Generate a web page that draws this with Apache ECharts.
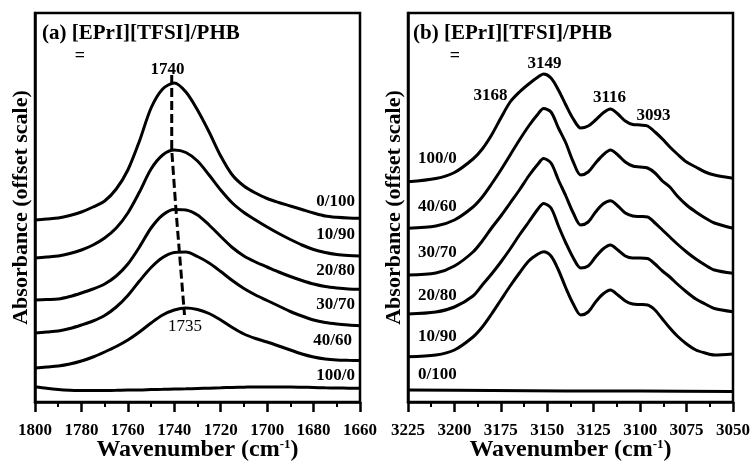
<!DOCTYPE html>
<html><head><meta charset="utf-8">
<script src="https://cdn.jsdelivr.net/npm/echarts@6/dist/echarts.min.js"></script>
<style>html,body{margin:0;padding:0;background:#fff}#c{width:751px;height:461px}</style>
</head><body><div id="c"></div>
<script>
// ---- Panel (a): C=O region ----
const wnA = [1800,1795,1790,1785,1780,1775,1770,1765,1760,1755,1750,1745,1740,1735,1730,1725,1720,1715,1710,1705,1700,1695,1690,1685,1680,1675,1670,1665,1660];
const a_0_100 = [182,183,184,186.5,190,195,201,213,232,261,294,313,319,310,292,270,246,227,216,209,203.5,199.5,196,192.5,189,186,184.7,184,183.7];
const a_10_90 = [144,145,146,148.5,152,157,164,174,189,210,233,247,252,249.5,241,227,212,199,189.5,182,175,168.5,162.5,157,152.5,149.5,147.5,146.5,146];
const a_20_80 = [102,102.5,103,105.5,109,113,118,126,138,155,174,187,192.5,192,187,177,165.5,154.5,146,140,135,130,125.5,121.5,118,115.5,114,113,112.7];
const a_30_70 = [69,70,71,73.5,77,81,86.5,95,106.5,121,134.5,144.5,149.5,150,145.5,139,130.5,121.5,113.5,107,101.5,96,90.5,86,82,79.5,78,77,76.3];
const a_40_60 = [34,35,36,38,41,45,50,55.5,62,70,79,87,92,94,92.5,88.5,82,74.5,68,63.5,60,56,52,48,45,43,42,41.7,41.5];
const a_100_0 = [15.3,13.7,12.5,11.8,11.5,11.4,11.5,11.7,12,12,12.4,12.7,13,13.2,13.5,13.8,14.2,14.6,14.8,15,15,15,15,14.8,14.5,14.2,14,13.8,13.7];
const peakShiftWn = [1741.1,1741.1,1739.3,1737.8,1735.6];
const peakShiftAbs = [327,252,193,150,87];
const ticksA = {min:1660, max:1800, interval:20};

// ---- Panel (b): C-H region ----
const wnB = [3225,3210,3200,3190,3185,3180,3175,3170,3165,3160,3155,3152,3148,3144,3140,3136,3132,3128,3124,3120,3116,3112,3108,3104,3100,3096,3092,3088,3084,3080,3075,3070,3065,3060,3050];
const b_100_0 = [220.3,223.5,229.5,243,253,267,284,300,310,318,325,328,324,312,297,283,274,276,282,289,293,288,281,277.5,277,276,270,263,255,248,240,235,230,227,223.7];
const b_40_60 = [173.7,176,182,195,205,218,232,247,262,276,288,293.5,290,274,259,240,227,230,239,247,252,247,240,236,235,234,229,221,215,206,197,190,184,179,173.7];
const b_30_70 = [127,129,136,150,161,174,186,199,212,226,238,243.5,239,222,206,189,177,180,190,198,201.3,196,189,186,185.5,185,179,172,165,158,150,143,137,132,128.7];
const b_20_80 = [88,90,95,106,117,128,140,153,167,180,193,198.5,194,176,159,144,134,136,145,153,157,152,146,144,144,143.5,138,131,125,118,110,103,98,93.5,90.3];
const b_10_90 = [45.3,47,52,65,75,88,102,116,129,141,148,150.3,146,132,114,98,87,90,100,108,112,107,101,98,97.5,97,92,83,74,66,58,52,49,47,48];
const wnB0 = [3225,3180,3140,3100,3050];
const b_0_100 = [12,11.5,11,11,10.5];
const ticksB = {min:3050, max:3225, interval:25};

const FF = '"Liberation Serif","Times New Roman",serif';
const zip = (xs, ys) => xs.map((x,i)=>[x, ys[i]]);

function xAxisFor(gi, t){
  return {
    gridIndex: gi, type:'value', inverse:true, min:t.min, max:t.max, interval:t.interval,
    axisLine:{show:true, lineStyle:{color:'#000', width:2.5}},
    axisTick:{show:true, inside:false, length:10, lineStyle:{color:'#000', width:2.5}},
    minorTick:{show:true, splitNumber:2, length:5, lineStyle:{color:'#000', width:2}},
    splitLine:{show:false},
    axisLabel:{color:'#000', fontFamily:FF, fontWeight:'bold', fontSize:17, margin:20,
      formatter: v => String(v)},
    name:'{t|Wavenumber (cm}{s|-1}{t|)}', nameLocation:'middle', nameGap:36, nameMoveOverlap:false,
    nameTextStyle:{rich:{
      t:{fontFamily:FF, fontWeight:'bold', fontSize:24, color:'#000'},
      s:{fontFamily:FF, fontWeight:'bold', fontSize:13, color:'#000', verticalAlign:'top'}
    }}
  };
}
function yAxisFor(gi){
  return {
    gridIndex: gi, type:'value', min:0, max:389,
    axisLine:{show:true, lineStyle:{color:'#000', width:2.5}},
    axisTick:{show:false}, axisLabel:{show:false}, splitLine:{show:false},
    name:'Absorbance (offset scale)', nameLocation:'middle', nameGap:3, nameMoveOverlap:false,
    nameTextStyle:{fontFamily:FF, fontWeight:'bold', fontSize:22, color:'#000'}
  };
}
function curve(gi, xs, ys){
  return {type:'line', xAxisIndex:gi, yAxisIndex:gi, data:zip(xs, ys), showSymbol:false,
    smooth:0.3, lineStyle:{color:'#000', width:3}, silent:true, animation:false};
}
function txt(x, y, s, size, align, bold){
  return {type:'text', x:x, y:y, style:{text:s, fill:'#000',
    font:(bold===false?'':'bold ')+size+'px '+FF,
    align:align, textAlign:align, verticalAlign:'middle', textVerticalAlign:'middle'}};
}

const chart = echarts.init(document.getElementById('c'), null, {renderer:'canvas'});
chart.setOption({
  backgroundColor:'#fff',
  animation:false,
  grid:[
    {left:35, top:13, width:325, height:389, show:true, borderColor:'#000', borderWidth:2.5,
      containLabel:false, outerBoundsMode:'none'},
    {left:408, top:13, width:325, height:389, show:true, borderColor:'#000', borderWidth:2.5,
      containLabel:false, outerBoundsMode:'none'}
  ],
  xAxis:[xAxisFor(0, ticksA), xAxisFor(1, ticksB)],
  yAxis:[yAxisFor(0), yAxisFor(1)],
  series:[
    curve(0, wnA, a_0_100), curve(0, wnA, a_10_90), curve(0, wnA, a_20_80),
    curve(0, wnA, a_30_70), curve(0, wnA, a_40_60), curve(0, wnA, a_100_0),
    {type:'line', xAxisIndex:0, yAxisIndex:0, data:zip(peakShiftWn, peakShiftAbs), showSymbol:false,
      lineStyle:{color:'#000', width:3, type:[9,4]}, silent:true},
    curve(1, wnB, b_100_0), curve(1, wnB, b_40_60), curve(1, wnB, b_30_70),
    curve(1, wnB, b_20_80), curve(1, wnB, b_10_90), curve(1, wnB0, b_0_100)
  ],
  graphic:[
    txt(42, 34, '(a) [EPrI][TFSI]/PHB', 21, 'left'),
    txt(80, 56, '=', 18, 'center'),
    txt(167.5, 70, '1740', 17, 'center'),
    txt(185, 327, '1735', 17, 'center', false),
    txt(355, 202, '0/100', 17, 'right'),
    txt(355, 235, '10/90', 17, 'right'),
    txt(355, 271, '20/80', 17, 'right'),
    txt(355, 305, '30/70', 17, 'right'),
    txt(352, 341, '40/60', 17, 'right'),
    txt(355, 376, '100/0', 17, 'right'),
    txt(413, 34, '(b) [EPrI][TFSI]/PHB', 21, 'left'),
    txt(455, 56, '=', 18, 'center'),
    txt(544.5, 64, '3149', 17, 'center'),
    txt(490.5, 96, '3168', 17, 'center'),
    txt(609.5, 97.5, '3116', 17, 'center'),
    txt(653.5, 116, '3093', 17, 'center'),
    txt(418, 159, '100/0', 17, 'left'),
    txt(418, 207, '40/60', 17, 'left'),
    txt(418, 253, '30/70', 17, 'left'),
    txt(418, 296, '20/80', 17, 'left'),
    txt(418, 337, '10/90', 17, 'left'),
    txt(418, 375, '0/100', 17, 'left')
  ]
});
</script></body></html>
